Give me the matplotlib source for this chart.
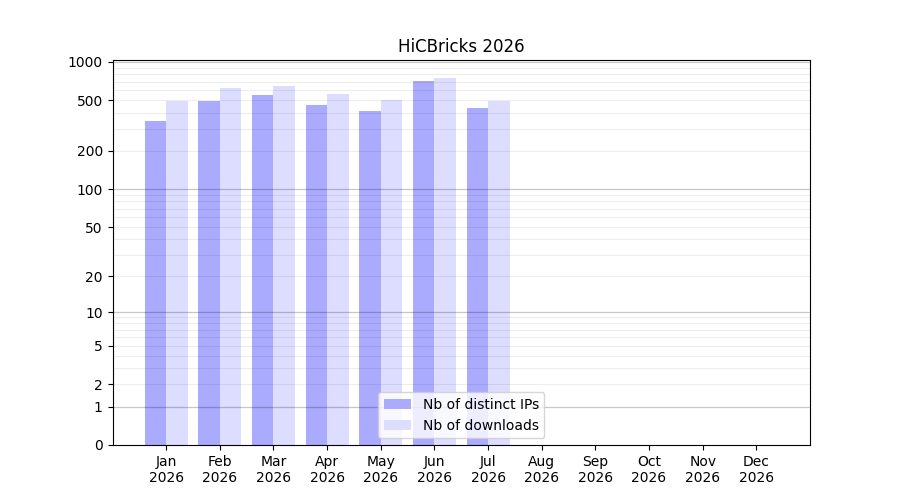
import matplotlib
matplotlib.use("Agg")
import matplotlib.pyplot as plt
import numpy as np
from matplotlib.ticker import FixedLocator, NullFormatter

months = ["Jan", "Feb", "Mar", "Apr", "May", "Jun", "Jul", "Aug", "Sep", "Oct", "Nov", "Dec"]
year = "2026"
distinct_ips = [344, 494, 552, 461, 413, 711, 436]
downloads = [494, 623, 649, 561, 504, 750, 494]
ytick_vals = [0, 1, 2, 5, 10, 20, 50, 100, 200, 500, 1000]


def fwd(x):
    return np.log10(1 + np.clip(x, 0, None))


def inv(y):
    return 10 ** y - 1


fig, ax = plt.subplots(figsize=(9, 5), dpi=100)
ax.set_yscale("function", functions=(fwd, inv))

x = np.arange(1, len(distinct_ips) + 1)
ax.bar(x - 0.2, distinct_ips, width=0.4, color="#aaaaff", label="Nb of distinct IPs", zorder=1)
ax.bar(x + 0.2, downloads, width=0.4, color="#ddddff", label="Nb of downloads", zorder=1)

ax.set_xlim(0, 13)
ax.set_xticks(np.arange(1, 13))
ax.set_xticklabels([m + "\n" + year for m in months])

ax.set_ylim(0, 10 ** 3.016 - 1)
ax.yaxis.set_major_locator(FixedLocator(ytick_vals))
ax.set_yticklabels([str(v) for v in ytick_vals])
minor = [m * d for d in (1, 10, 100) for m in range(2, 10)]
ax.yaxis.set_minor_locator(FixedLocator(minor))
ax.yaxis.set_minor_formatter(NullFormatter())
ax.tick_params(axis="y", which="minor", length=0)

# darker lines at the decades, faint ones in between, both over the bars
for v in [1, 10, 100, 1000]:
    ax.axhline(v, color="black", alpha=0.22, linewidth=0.9, zorder=3)
for v in minor:
    ax.axhline(v, color="black", alpha=0.07, linewidth=0.8, zorder=3)

ax.set_title("HiCBricks 2026")
ax.legend(loc="lower center").set_zorder(5)

fig.savefig("out.png")
